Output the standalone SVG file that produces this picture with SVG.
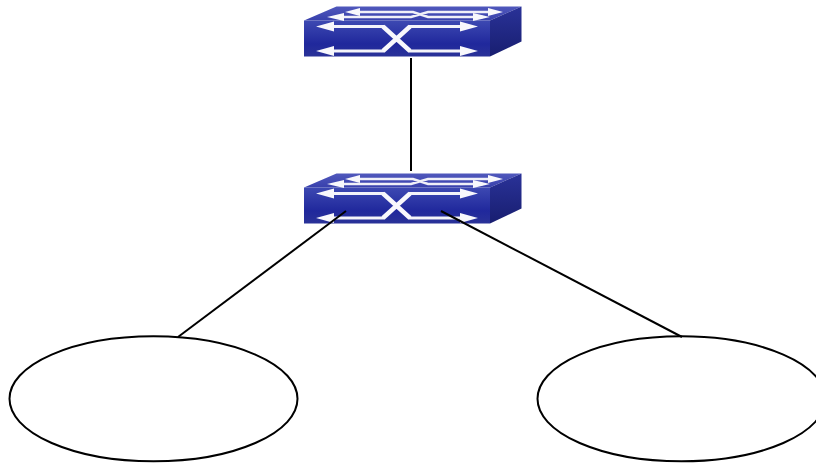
<svg xmlns="http://www.w3.org/2000/svg" width="816" height="463" viewBox="0 0 816 463">
<style>
.c{fill:none;stroke:#000;stroke-width:2}
.n{fill:#fff;stroke:#000;stroke-width:2}
.w{fill:none;stroke:#f4f4fa;stroke-width:2.8}
.x{fill:none;stroke:#f8f8fc;stroke-width:4.4}
.w2{fill:none;stroke:#f0f0f8;stroke-width:2.6}
.a{fill:#f8f8fc}
</style>
<defs>
<linearGradient id="f" x1="0" y1="0" x2="0" y2="1"><stop offset="0" stop-color="#3d49b2"/><stop offset="0.65" stop-color="#20289c"/><stop offset="1" stop-color="#2a3298"/></linearGradient>
<linearGradient id="t" x1="0" y1="0" x2="0" y2="1"><stop offset="0" stop-color="#5058bc"/><stop offset="1" stop-color="#3840ac"/></linearGradient>
<linearGradient id="s" x1="0" y1="0" x2="0" y2="1"><stop offset="0" stop-color="#2a3298"/><stop offset="1" stop-color="#181e70"/></linearGradient>
<g id="sw">
<path d="M304 20.500L336.500 6.500H521.500L490 20.500Z" fill="url(#t)"/>
<path d="M304 20.500H490V56.500H304Z" fill="url(#f)"/>
<path d="M490 20.500L521.500 6.500V41.500L490 56.500Z" fill="url(#s)"/>
<path class="w" d="M328 26.500H384M409 26.500H468M328 51H384M409 51H468"/>
<path class="x" d="M383 26.500L410 51M383 51L410 26.500"/>
<path class="a" d="M316 26.500L334 21.500V31.500ZM478 26.500L460 21.500V31.500ZM316 51L334 46V56ZM478 51L460 46V56Z"/>
<path class="w2" d="M352 12H413L428 17H483M336 17H411L428 12H495"/>
<path class="a" d="M345 12L360 8V16ZM503 12L488 8V16ZM327 17L344 13V21ZM490 17L473 13V21Z"/>
</g>
</defs>
<g id="switch-top"><use href="#sw"/></g>
<g id="switch-middle"><use href="#sw" y="167"/></g>
<g id="ellipse-left"><ellipse class="n" cx="153.500" cy="398.800" rx="144" ry="62.500"/></g>
<g id="ellipse-right"><ellipse class="n" cx="681.500" cy="398.800" rx="144" ry="62.500"/></g>
<g id="connectors">
<line class="c" x1="411" y1="58" x2="411" y2="171"/>
<line class="c" x1="346" y1="211" x2="178" y2="337"/>
<line class="c" x1="441" y1="211" x2="682" y2="337"/>
</g>
</svg>
